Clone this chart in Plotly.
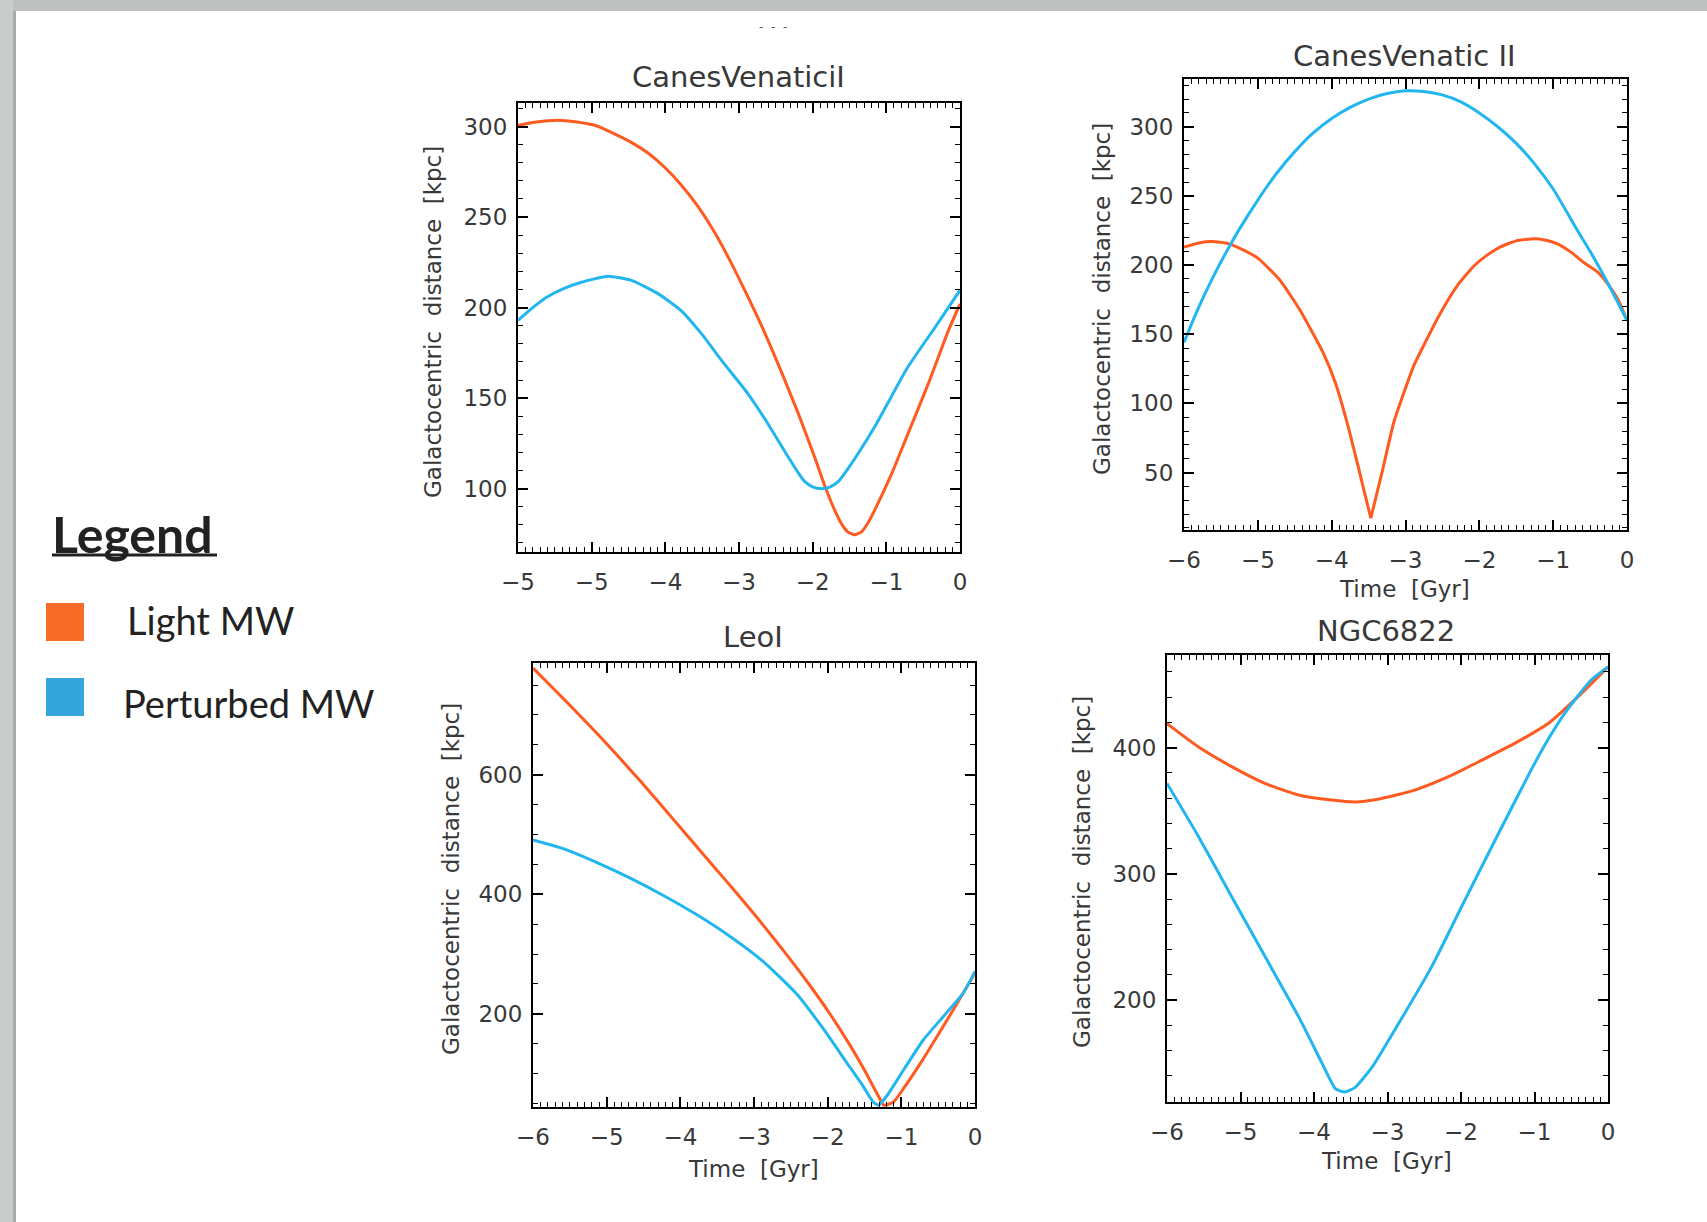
import plotly.graph_objects as go

# ---------------- data ----------------
time_ticks = [-6, -5, -4, -3, -2, -1, 0]
cv1_tick_text = ["\u22125", "\u22125", "\u22124", "\u22123", "\u22122", "\u22121", "0"]
std_tick_text = ["\u22126", "\u22125", "\u22124", "\u22123", "\u22122", "\u22121", "0"]

panel_titles = ["CanesVenaticiI", "CanesVenatic II", "LeoI", "NGC6822"]
series_names = ["Light MW", "Perturbed MW"]

# CanesVenaticiI
cv1_light_t = [-6.0, -5.75, -5.46, -5.2, -4.96, -4.69, -4.45, -4.24, -4.01, -3.79, -3.56, -3.33, -3.11,
               -2.88, -2.65, -2.43, -2.2, -1.97, -1.84, -1.7, -1.6, -1.52, -1.43, -1.34, -1.25, -1.16,
               -0.93, -0.71, -0.43, -0.16, 0.0]
cv1_light_d = [300.7, 302.5, 303.5, 302.5, 300.7, 296, 291, 285.5, 277.5, 268, 256, 241.5, 225,
               206, 186, 165, 142, 117, 102, 88, 80, 76, 74.5, 76, 81, 88,
               108, 130, 158, 187, 202]
cv1_pert_t = [-6.0, -5.8, -5.6, -5.38, -5.14, -4.78, -4.46, -4.1, -3.79, -3.51, -3.24, -2.88, -2.61,
              -2.34, -2.2, -2.11, -2.0, -1.88, -1.76, -1.65, -1.52, -1.16, -0.71, -0.34, 0.0]
cv1_pert_d = [193, 200, 206, 210.5, 214, 217.3, 215, 207.7, 198.5, 185.6, 171, 152.5, 136,
              118, 109, 104, 101, 100, 101, 104, 111, 134, 167, 189, 209.6]

# CanesVenaticII
cv2_light_t = [-6.0, -5.8, -5.62, -5.4, -5.2, -5.0, -4.7, -4.43, -4.11, -3.95, -3.79, -3.63, -3.47,
               -3.31, -3.16, -3.02, -2.89, -2.53, -2.3, -2.08, -1.9, -1.72, -1.5, -1.26, -1.1,
               -0.95, -0.75, -0.59, -0.4, -0.27, -0.12, 0.0]
cv2_light_d = [213, 216, 217, 215.5, 211, 205, 189, 167.5, 136, 115, 86, 52, 17,
               52, 86, 108, 127, 165, 185, 199, 207, 213, 217.5, 219, 218,
               215.5, 209, 202, 195, 187, 175, 160]
cv2_pert_t = [-6.0, -5.83, -5.6, -5.38, -5.25, -5.0, -4.75, -4.5, -4.25, -4.0, -3.75, -3.5, -3.25,
              -3.0, -2.75, -2.5, -2.25, -2.0, -1.75, -1.5, -1.25, -1.0, -0.67, -0.5, -0.27, 0.0]
cv2_pert_d = [144, 166, 192, 214, 226, 247, 266, 282, 295.5, 306, 314, 320, 324,
              326, 325.5, 323, 318, 310, 300, 288, 273, 255, 225, 210, 188, 160]

# LeoI
leo_light_t = [-6.0, -5.72, -5.45, -5.13, -4.86, -4.54, -4.27, -3.96, -3.69, -3.41, -3.14, -2.87,
               -2.56, -2.28, -1.97, -1.7, -1.52, -1.31, -1.24, -1.11, -0.97, -0.7, -0.48, -0.25, 0.0]
leo_light_d = [778.5, 744, 710, 669, 633, 589, 550.5, 506, 467, 427, 388, 347.5,
               299.5, 254, 200, 148, 110, 62, 47, 52, 75, 125, 169, 216, 268]
leo_pert_t = [-6.0, -5.58, -5.13, -4.68, -4.23, -3.78, -3.32, -2.87, -2.42, -2.06, -1.74, -1.52,
              -1.38, -1.31, -1.2, -0.97, -0.7, -0.43, -0.16, 0.0]
leo_pert_d = [491, 476, 453, 427, 398, 366, 329, 287, 233, 175, 118, 79,
              52, 47, 62, 106, 156.5, 195.5, 234.6, 271]

# NGC6822
ngc_light_t = [-6.0, -5.57, -5.12, -4.66, -4.21, -3.76, -3.44, -3.08, -2.63, -2.17, -1.72, -1.27,
               -0.81, -0.36, 0.0]
ngc_light_d = [419, 400.5, 385, 371.5, 362.5, 358.5, 357, 359.8, 366.4, 377, 390, 403.4,
               419.3, 443, 464]
ngc_pert_t = [-6.0, -5.57, -5.12, -4.66, -4.21, -3.89, -3.71, -3.58, -3.44, -3.21, -2.85, -2.4,
              -1.95, -1.49, -1.04, -0.8, -0.58, -0.23, 0.0]
ngc_pert_d = [371.7, 329.5, 282, 234, 187, 150, 130, 127.3, 131, 147, 181.5, 226.4,
              279, 332, 383, 408, 428, 453.6, 464]

y_ticks = [[100, 150, 200, 250, 300],
           [50, 100, 150, 200, 250, 300],
           [200, 400, 600],
           [200, 300, 400]]
y_ranges = [[65, 313], [8.5, 334.5], [44, 787], [119.4, 473.4]]
y_minor = [10, 10, 50, 20]

# ---------------- style / layout ----------------
W, H = 1707, 1222
ORANGE = "#FF5A1F"
BLUE = "#22B6F0"
TXT = "#383838"
FONT = "DejaVu Sans"


def fx(p):
    return p / W


def fy(p):
    return 1 - p / H


# panel boxes in pixels: (left, right, top, bottom)
boxes = [(518, 960, 103, 552), (1184, 1627, 79, 530), (533, 975, 663, 1107), (1167, 1608, 655, 1102)]

# whether a series has a sharp cusp at its minimum (drawn as two smooth branches)
panel_data = [
    (cv1_light_t, cv1_light_d, cv1_pert_t, cv1_pert_d, False),
    (cv2_light_t, cv2_light_d, cv2_pert_t, cv2_pert_d, True),
    (leo_light_t, leo_light_d, leo_pert_t, leo_pert_d, False),
    (ngc_light_t, ngc_light_d, ngc_pert_t, ngc_pert_d, False),
]

fig = go.Figure()


def add_series(t, d, color, name, xa, ya, cusp=False):
    style = dict(color=color, width=3, shape="spline", smoothing=0.5)
    if cusp:
        k = d.index(min(d))
        parts = [(t[:k + 1], d[:k + 1]), (t[k:], d[k:])]
    else:
        parts = [(t, d)]
    for pt, pdv in parts:
        fig.add_trace(go.Scatter(x=pt, y=pdv, mode="lines", name=name, showlegend=False,
                                 line=style, xaxis=xa, yaxis=ya))


layout_axes = {}
for i, (lt, ld, pt, pd, cusp) in enumerate(panel_data):
    n = "" if i == 0 else str(i + 1)
    xa, ya = "x" + n, "y" + n
    add_series(lt, ld, ORANGE, series_names[0], xa, ya, cusp=cusp)
    add_series(pt, pd, BLUE, series_names[1], xa, ya)
    l, r, t, b = boxes[i]
    common = dict(showgrid=False, zeroline=False, showline=True, linecolor="black", linewidth=2,
                  mirror="ticks", ticks="inside", ticklen=10, tickwidth=1.5, tickcolor="black",
                  automargin=False,
                  tickfont=dict(family=FONT, size=23, color=TXT))
    layout_axes["xaxis" + n] = dict(
        common, domain=[fx(l), fx(r)], range=[-6, 0], anchor=ya,
        tickmode="array", tickvals=time_ticks,
        ticktext=cv1_tick_text if i == 0 else std_tick_text,
        ticklabelstandoff=8,
        minor=dict(ticks="inside", ticklen=5, tickwidth=1, tickcolor="black", tick0=0, dtick=0.1),
    )
    layout_axes["yaxis" + n] = dict(
        common, domain=[fy(b), fy(t)], range=y_ranges[i], anchor=xa,
        tickmode="array", tickvals=y_ticks[i], ticktext=[str(v) for v in y_ticks[i]],
        ticklabelstandoff=4,
        minor=dict(ticks="inside", ticklen=5, tickwidth=1, tickcolor="black", tick0=0, dtick=y_minor[i]),
    )

annotations = []
# panel titles
title_pos = [(738, 77), (1404, 56), (753, 637), (1386, 631)]
for txt, (x, y) in zip(panel_titles, title_pos):
    annotations.append(dict(text=txt, x=fx(x), y=fy(y), xref="paper", yref="paper", showarrow=False,
                            xanchor="center", yanchor="middle",
                            font=dict(family=FONT, size=29, color=TXT)))
# y-axis titles
ytitle_pos = [(433, 322), (1102, 299), (451, 879), (1082, 872)]
for (x, y) in ytitle_pos:
    annotations.append(dict(text="Galactocentric  distance  [kpc]", x=fx(x), y=fy(y), xref="paper",
                            yref="paper", showarrow=False, textangle=-90, xanchor="center",
                            yanchor="middle", font=dict(family=FONT, size=23, color=TXT)))
# x-axis titles
xtitle_pos = [(1404, 589), (753, 1169), (1386, 1161)]
for (x, y) in xtitle_pos:
    annotations.append(dict(text="Time  [Gyr]", x=fx(x), y=fy(y), xref="paper", yref="paper",
                            showarrow=False, xanchor="center", yanchor="middle",
                            font=dict(family=FONT, size=23, color=TXT)))
# stray marks at top
annotations.append(dict(text="-  -  -", x=fx(773), y=fy(27), xref="paper", yref="paper", showarrow=False,
                        xanchor="center", yanchor="middle", font=dict(family=FONT, size=12, color="#555")))

# legend block
LEG_FONT = "Lato"
annotations.append(dict(text="<b>Legend</b>", x=fx(50), y=fy(534), xref="paper", yref="paper",
                        showarrow=False, xanchor="left", yanchor="middle",
                        font=dict(family=LEG_FONT, size=50, color="#222")))
annotations.append(dict(text=series_names[0], x=fx(125), y=fy(620), xref="paper", yref="paper",
                        showarrow=False, xanchor="left", yanchor="middle",
                        font=dict(family=LEG_FONT, size=38, color="#222")))
annotations.append(dict(text=series_names[1], x=fx(121), y=fy(703), xref="paper", yref="paper",
                        showarrow=False, xanchor="left", yanchor="middle",
                        font=dict(family=LEG_FONT, size=38, color="#222")))

shapes = [
    # slide border (grey frame at top and left)
    dict(type="rect", xref="paper", yref="paper", x0=0, x1=1, y0=fy(11), y1=1,
         fillcolor="#bfc1c0", line=dict(width=0), layer="above"),
    dict(type="rect", xref="paper", yref="paper", x0=0, x1=fx(13), y0=0, y1=1,
         fillcolor="#cacccb", line=dict(width=0), layer="above"),
    dict(type="rect", xref="paper", yref="paper", x0=fx(13), x1=fx(16), y0=0, y1=fy(11),
         fillcolor="#a9abaa", line=dict(width=0), layer="above"),
    # legend underline
    dict(type="line", xref="paper", yref="paper", x0=fx(52), x1=fx(217), y0=fy(555), y1=fy(555),
         line=dict(color="#222", width=3)),
    # legend swatches
    dict(type="rect", xref="paper", yref="paper", x0=fx(46), x1=fx(84), y0=fy(641), y1=fy(603),
         fillcolor="#F96B28", line=dict(width=0)),
    dict(type="rect", xref="paper", yref="paper", x0=fx(46), x1=fx(84), y0=fy(716), y1=fy(678),
         fillcolor="#34A6DC", line=dict(width=0)),
]

fig.update_layout(
    width=W, height=H, margin=dict(l=0, r=0, t=0, b=0, autoexpand=False),
    paper_bgcolor="white", plot_bgcolor="white",
    showlegend=False, annotations=annotations, shapes=shapes,
    **layout_axes,
)

fig.write_html("out.html")
